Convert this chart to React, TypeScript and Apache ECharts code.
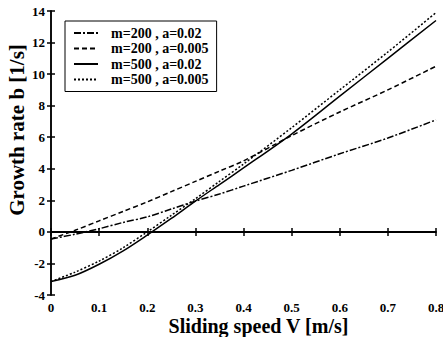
import React, { useEffect, useRef } from "react";
import * as echarts from "echarts";

const speedV = [0, 0.05, 0.1, 0.15, 0.2, 0.25, 0.3, 0.35, 0.4, 0.5, 0.6, 0.7, 0.8];
const m200a002 = [-0.45, -0.15, 0.2, 0.6, 0.95, 1.45, 1.95, 2.4, 2.9, 3.9, 4.95, 5.95, 7.1];
const m200a0005 = [-0.45, 0.1, 0.7, 1.3, 1.9, 2.55, 3.2, 3.85, 4.5, 6.1, 7.6, 9.0, 10.5];
const m500a002 = [-3.15, -2.75, -2.05, -1.2, -0.2, 0.85, 1.95, 3.0, 4.05, 6.2, 8.6, 11.0, 13.4];
const m500a0005 = [-3.15, -2.55, -1.85, -1.0, 0.0, 1.05, 2.1, 3.2, 4.3, 6.6, 9.0, 11.4, 13.9];
const seriesNames = ["m=200 , a=0.02", "m=200 , a=0.005", "m=500 , a=0.02", "m=500 , a=0.005"];
const xTicks = ["0", "0.1", "0.2", "0.3", "0.4", "0.5", "0.6", "0.7", "0.8"];

const FONT = "'Liberation Serif', 'Times New Roman', serif";

export default function App() {
  const ref = useRef<HTMLDivElement>(null);
  useEffect(() => {
    if (!ref.current) return;
    const chart = echarts.init(ref.current, undefined, { renderer: "svg" });
    const pair = (ys: number[]) => speedV.map((v, i) => [v, ys[i]]);
    const allY = [m200a002, m200a0005, m500a002, m500a0005];
    const dashes: any[] = [[7, 2, 2, 2], [5, 3], "solid", [2, 2]];
    const axisCommon = {
      axisLine: { show: true, lineStyle: { color: "#000", width: 1.5 } },
      axisTick: { show: true, inside: true, length: 4, lineStyle: { color: "#000", width: 1.5 } },
      splitLine: { show: false },
    };
    chart.setOption({
      animation: false,
      backgroundColor: "#fff",
      grid: { left: 51, right: 7, top: 11, bottom: 42, outerBoundsMode: "none", containLabel: false },
      legend: {
        data: seriesNames,
        orient: "vertical",
        left: 65,
        top: 21,
        padding: [5, 8, 5, 8],
        itemGap: 1.5,
        itemWidth: 24,
        itemHeight: 14,
        borderColor: "#000",
        borderWidth: 1,
        backgroundColor: "#fff",
        itemStyle: { opacity: 0 },
        textStyle: { fontFamily: FONT, fontWeight: "bold", fontSize: 14, color: "#000", padding: [0, 0, 0, 8] },
      },
      xAxis: [
        {
          type: "value",
          min: 0,
          max: 0.8,
          interval: 0.1,
          ...axisCommon,
          axisLabel: {
            margin: 6,
            fontFamily: FONT,
            fontWeight: "bold",
            fontSize: 13,
            color: "#000",
            formatter: (v: number) => xTicks[Math.round(v * 10)] ?? "",
          },
          name: "Sliding speed V [m/s]",
          nameLocation: "middle",
          nameGap: 21,
          nameMoveOverlap: false,
          nameTextStyle: { fontFamily: FONT, fontWeight: "bold", fontSize: 20, color: "#000", padding: [0, 0, 0, 30] },
        },
        { type: "value", position: "top", min: 0, max: 0.8, interval: 0.1, ...axisCommon, axisLabel: { show: false } },
      ],
      yAxis: [
        {
          type: "value",
          min: -4,
          max: 14,
          interval: 2,
          ...axisCommon,
          axisLabel: { margin: 6, fontFamily: FONT, fontWeight: "bold", fontSize: 13, color: "#000" },
          name: "Growth rate b [1/s]",
          nameLocation: "middle",
          nameGap: 24,
          nameMoveOverlap: false,
          nameTextStyle: { fontFamily: FONT, fontWeight: "bold", fontSize: 21, color: "#000", padding: [0, 0, 0, 46] },
        },
        { type: "value", position: "right", min: -4, max: 14, interval: 2, ...axisCommon, axisLabel: { show: false } },
      ],
      series: [
        ...seriesNames.map((n, i) => ({
          name: n,
          type: "line",
          data: pair(allY[i]),
          smooth: 0.3,
          symbol: "none",
          lineStyle: { color: "#000", width: 1.5, type: dashes[i] },
          itemStyle: { color: "#000" },
        })),
        {
          name: "zero",
          type: "line",
          data: [[0, 0], [0.8, 0]],
          symbol: "none",
          lineStyle: { color: "#000", width: 2 },
          silent: true,
        },
      ],
    });
    return () => chart.dispose();
  }, []);
  return <div ref={ref} style={{ width: 443, height: 337, position: "absolute", left: 0, top: 0 }} />;
}
